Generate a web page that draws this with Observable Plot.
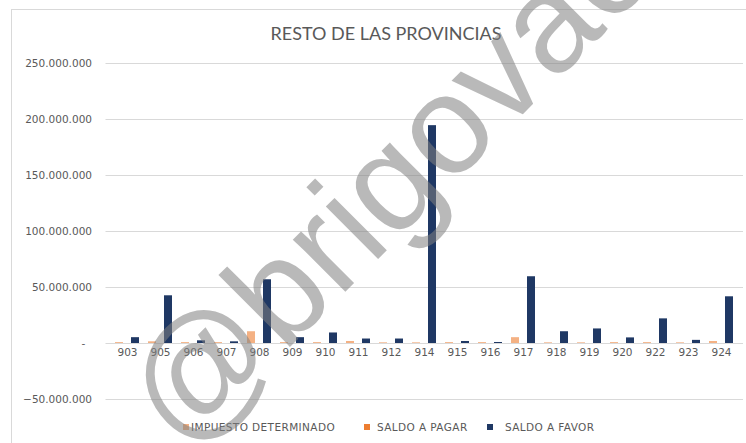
<!DOCTYPE html>
<html>
<head>
<meta charset="utf-8">
<script src="https://cdn.jsdelivr.net/npm/d3@7"></script>
<script src="https://cdn.jsdelivr.net/npm/@observablehq/plot@0.6"></script>
<style>
  body { margin: 0; background: #fff; }
  #chart { position: relative; width: 746px; height: 443px; overflow: hidden; background: #fff; }
  #frame { position: absolute; left: 11px; top: 9px; width: 800px; height: 500px; border: 1px solid #d9d9d9; box-sizing: border-box; }
  #title { position: absolute; left: 0; top: 22px; width: 772px; text-align: center; font-family: Lato, sans-serif; font-size: 18px; line-height: 22px; color: #595959; }
  #plot { position: absolute; left: 0; top: 48px; }
  #legend { position: absolute; left: 0; top: 418px; width: 746px; height: 20px; font-family: "DejaVu Sans", sans-serif; font-size: 10.5px; letter-spacing: 0.4px; color: #595959; }
  .sw { position: absolute; top: 6px; width: 6px; height: 6px; }
  .lt { position: absolute; top: 2px; line-height: 14px; white-space: nowrap; }
  #wm { position: absolute; left: 0; top: 0; pointer-events: none; }
</style>
</head>
<body>
<div id="chart">
  <div id="frame"></div>
  <div id="title"></div>
  <div id="plot"></div>
  <div id="legend"></div>
  <svg id="wm" width="746" height="443"></svg>
</div>
<script>
const titleText = "RESTO DE LAS PROVINCIAS";
const categories = ["903","905","906","907","908","909","910","911","912","914","915","916","917","918","919","920","922","923","924"];
const impuestoDeterminado = [0.8e6, 1.5e6, 0.8e6, 0.8e6, 10.5e6, 0.8e6, 0.8e6, 1.8e6, 0.6e6, 0.6e6, 0.8e6, 0.8e6, 5.2e6, 0.6e6, 0.6e6, 0.8e6, 0.8e6, 0.6e6, 1.8e6];
const saldoAPagar = [0, 0, 0, 0, 0, 0, 0, 0, 0, 0, 0, 0, 0, 0, 0, 0, 0, 0, 0];
const saldoAFavor = [5.2e6, 42.6e6, 2.4e6, 1.5e6, 56.9e6, 5.2e6, 9.4e6, 4.0e6, 4.0e6, 194.5e6, 1.8e6, 0.9e6, 59.6e6, 10.5e6, 13.0e6, 5.0e6, 22.0e6, 2.8e6, 41.7e6];
const seriesNames = ["IMPUESTO DETERMINADO", "SALDO A PAGAR", "SALDO A FAVOR"];
const seriesColors = ["#f4b183", "#ed7d31", "#1f3864"];
const yTicks = [-50e6, 0, 50e6, 100e6, 150e6, 200e6, 250e6];
const watermarkText = "@brigovac";

const seriesValues = [impuestoDeterminado, saldoAPagar, saldoAFavor];
const rows = seriesNames.map((s, k) => categories.map((c, i) => ({cat: c, serie: s, value: seriesValues[k][i]})));
const catRows = categories.map(c => ({cat: c, zero: 0}));

const loc = d3.formatLocale({decimal: ",", thousands: ".", grouping: [3], currency: ["", ""]});
const fmt = loc.format(",.0f");
const tickFormat = d => d === 0 ? "-\u2007" : fmt(d);

document.getElementById("title").textContent = titleText;

const offsets = [-8, 0, 8];
const plot = Plot.plot({
  width: 746,
  height: 370,
  marginLeft: 105.5,
  marginRight: 3,
  marginTop: 15,
  marginBottom: 19,
  style: {fontFamily: "DejaVu Sans, sans-serif", fontSize: "10.5px", color: "#595959", background: "transparent"},
  x: {type: "band", domain: categories, paddingInner: 0.7615, paddingOuter: 0.381, axis: null},
  y: {domain: [-50e6, 250e6], axis: null},
  color: {domain: seriesNames, range: seriesColors},
  marks: [
    Plot.ruleY(yTicks, {stroke: "#d9d9d9", strokeWidth: 1}),
    ...rows.map((r, k) => Plot.barY(r, {x: "cat", y: "value", fill: "serie", dx: offsets[k]})),
    Plot.text(catRows, {x: "cat", y: "zero", text: "cat", dy: 9.5, lineAnchor: "middle", fill: "#595959", fontSize: 10.5}),
    Plot.axisY({ticks: yTicks, tickSize: 0, tickPadding: 14, tickFormat, label: null, fill: "#595959", fontSize: 10.5})
  ]
});
document.getElementById("plot").appendChild(plot);

// Legend
const legend = document.getElementById("legend");
const swX = [183, 364, 487];
const txX = [191, 377, 505];
seriesNames.forEach((s, k) => {
  const sw = document.createElement("div");
  sw.className = "sw";
  sw.style.left = swX[k] + "px";
  sw.style.background = seriesColors[k];
  legend.appendChild(sw);
  const t = document.createElement("div");
  t.className = "lt";
  t.style.left = txX[k] + "px";
  t.textContent = s;
  legend.appendChild(t);
});

// Watermark
const wm = d3.select("#wm");
wm.append("text")
  .attr("x", 183).attr("y", 454)
  .attr("transform", "rotate(-45 183 454)")
  .attr("font-family", "Liberation Sans, Arial, sans-serif")
  .attr("font-size", 140)
  .attr("fill", "#808080")
  .attr("fill-opacity", 0.55)
  .text(watermarkText);
</script>
</body>
</html>
